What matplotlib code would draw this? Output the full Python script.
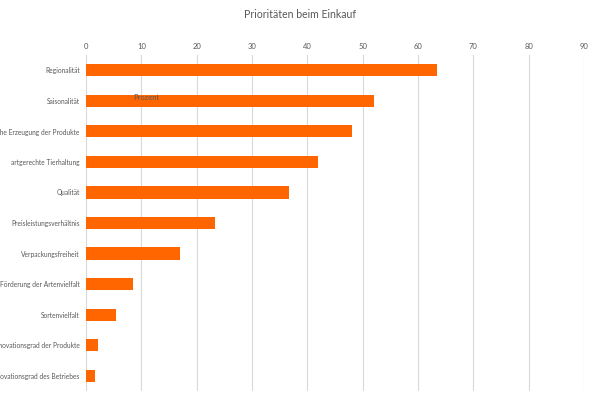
import matplotlib
matplotlib.use("Agg")
import matplotlib.pyplot as plt

categories = [
    "Regionalität",
    "Saisonalität",
    "Ökologische Erzeugung der Produkte",
    "artgerechte Tierhaltung",
    "Qualität",
    "Preisleistungsverhältnis",
    "Verpackungsfreiheit",
    "Förderung der Artenvielfalt",
    "Sortenvielfalt",
    "Innovationsgrad der Produkte",
    "Innovationsgrad des Betriebes",
]
values = [63.4, 52.0, 48.0, 41.9, 36.7, 23.4, 17.0, 8.5, 5.5, 2.1, 1.6]
xticks = [0, 10, 20, 30, 40, 50, 60, 70, 80, 90]

plt.rcParams['font.family'] = ['Lato', 'DejaVu Sans']

fig = plt.figure(figsize=(6, 4), dpi=100)
ax = fig.add_axes([86/600, 1 - 391/400, 498/600, 336/400])

ypos = list(range(len(categories)))
ax.barh(ypos, values, height=0.4, color="#FF6600", zorder=3)
ax.set_xlim(0, 90)
ax.set_ylim(len(categories) - 0.5, -0.5)
ax.set_xticks(xticks)
ax.set_yticks(ypos)
ax.set_yticklabels(categories)
ax.xaxis.tick_top()
ax.tick_params(axis='x', length=0, labelsize=5.5, colors="#595959", pad=3.5)
ax.tick_params(axis='y', length=0, labelsize=4.8, colors="#595959", pad=4.5)
ax.grid(axis='x', color="#d9d9d9", linewidth=0.8, zorder=0)
for s in ax.spines.values():
    s.set_visible(False)

ax.text(8.5, 0.9, "Prozent", fontsize=5.5, color="#595959", va="center", zorder=4)

fig.text(0.5, 1 - 14/400, "Prioritäten beim Einkauf", ha="center", va="center",
         fontsize=7.6, color="#595959")

fig.savefig("out.png", dpi=100)
